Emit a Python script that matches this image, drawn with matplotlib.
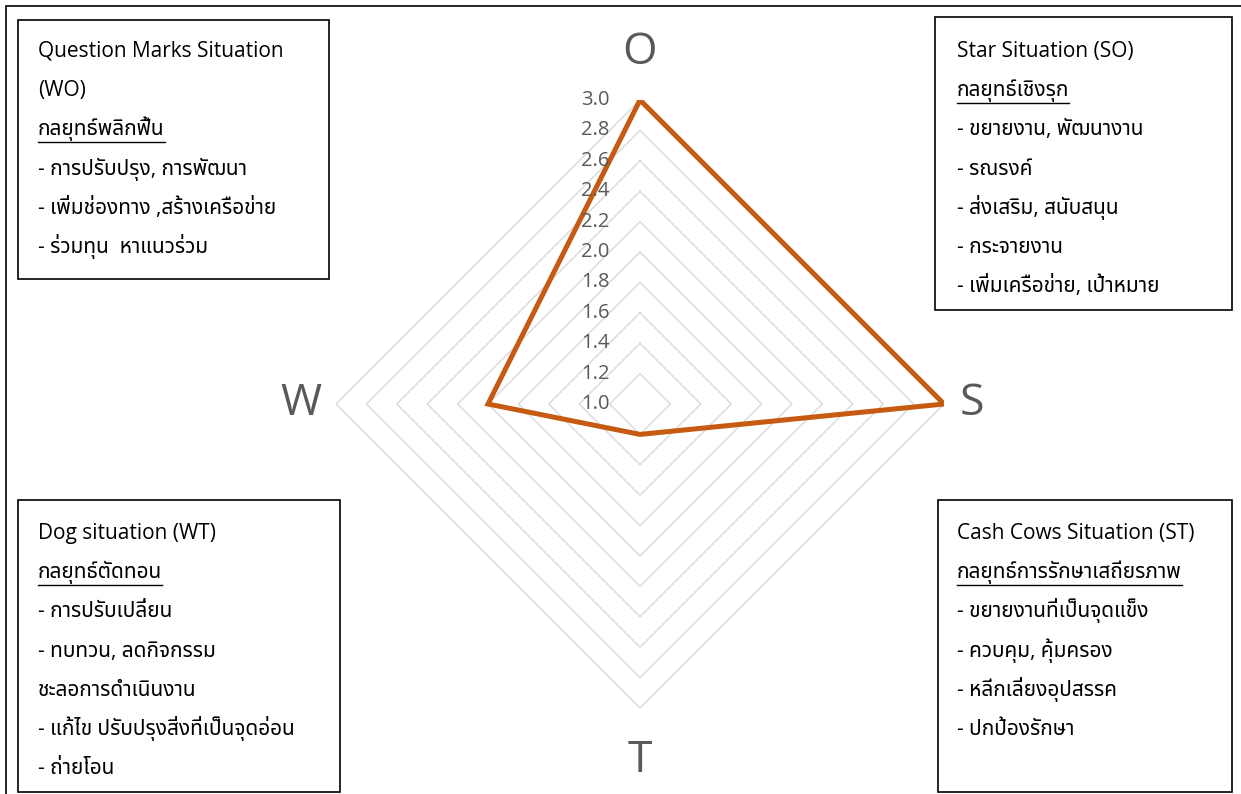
import matplotlib
matplotlib.use("Agg")
import matplotlib.pyplot as plt
import numpy as np
from matplotlib import font_manager
from matplotlib.lines import Line2D
from matplotlib.patches import Rectangle

# --- data -----------------------------------------------------------------
categories = ["O", "S", "T", "W"]
values = [3.0, 3.0, 1.2, 2.0]
levels = [1.2, 1.4, 1.6, 1.8, 2.0, 2.2, 2.4, 2.6, 2.8, 3.0]
tick_labels = ["1.0", "1.2", "1.4", "1.6", "1.8", "2.0", "2.2", "2.4", "2.6", "2.8", "3.0"]

wo_lines = ["Question Marks Situation", "(WO)", "กลยุทธ์พลิกฟื้น",
            "- การปรับปรุง, การพัฒนา", "- เพิ่มช่องทาง ,สร้างเครือข่าย",
            "- ร่วมทุน  หาแนวร่วม"]
so_lines = ["Star Situation (SO)", "กลยุทธ์เชิงรุก", "- ขยายงาน, พัฒนางาน",
            "- รณรงค์", "- ส่งเสริม, สนับสนุน", "- กระจายงาน",
            "- เพิ่มเครือข่าย, เป้าหมาย"]
wt_lines = ["Dog situation (WT)", "กลยุทธ์ตัดทอน", "- การปรับเปลี่ยน",
            "- ทบทวน, ลดกิจกรรม", "ชะลอการดำเนินงาน",
            "- แก้ไข ปรับปรุงสิ่งที่เป็นจุดอ่อน", "- ถ่ายโอน"]
st_lines = ["Cash Cows Situation (ST)", "กลยุทธ์การรักษาเสถียรภาพ",
            "- ขยายงานที่เป็นจุดแข็ง", "- ควบคุม, คุ้มครอง",
            "- หลีกเลี่ยงอุปสรรค", "- ปกป้องรักษา"]
underlined = {"กลยุทธ์พลิกฟื้น", "กลยุทธ์เชิงรุก", "กลยุทธ์ตัดทอน",
              "กลยุทธ์การรักษาเสถียรภาพ"}

# pick whatever Thai-capable family is installed
_installed = {f.name for f in font_manager.fontManager.ttflist}
_thai = next((n for n in ["Noto Sans Thai", "Noto Sans Thai Looped", "Sarabun",
                          "IBM Plex Sans Thai", "Anuphan", "Athiti"]
              if n in _installed), "DejaVu Sans")
FAMILY = ["Open Sans", _thai, "DejaVu Sans"]
plt.rcParams["font.family"] = FAMILY

W, H = 1241, 794
fig = plt.figure(figsize=(W / 100, H / 100), dpi=100)


def fx(x):
    return x / W


def fy(y):
    return 1 - y / H


# outer chart border (right/bottom run off the image)
fig.patches.append(Rectangle((fx(6), fy(800)), fx(1250 - 6), (800 - 6) / H,
                             transform=fig.transFigure, fill=False,
                             ec="black", lw=1.2))

# --- radar ------------------------------------------------------------------
cx, cy, rad = 640, 404, 304
ax = fig.add_axes([fx(cx - rad), fy(cy + rad), 2 * rad / W, 2 * rad / H],
                  projection="polar")
ax.set_theta_offset(np.pi / 2)
ax.set_theta_direction(-1)
ax.set_ylim(1.0, 3.0)
ax.grid(False)
ax.spines["polar"].set_visible(False)
ax.set_xticks([])
ax.set_yticks([])
ax.patch.set_alpha(0)

angles = np.linspace(0, 2 * np.pi, len(categories), endpoint=False)
closed = np.concatenate([angles, angles[:1]])
for lv in levels:
    ax.plot(closed, [lv] * len(closed), color="#d9d9d9", lw=1.0, zorder=1)

ax.plot(closed, values + values[:1], color="#c55a11", lw=3.6,
        solid_joinstyle="miter", zorder=3)

for i, lab in enumerate(tick_labels):
    r = 1.0 + 0.2 * i
    ax.annotate(lab, xy=(0, r), xytext=(-22, 0), textcoords="offset points",
                ha="right", va="center", fontsize=14.5, color="#595959",
                zorder=4)

label_off = {"O": (0, 34), "S": (20, 0), "T": (0, -38), "W": (-25, 0)}
for ang, cat in zip(angles, categories):
    ax.annotate(cat, xy=(ang, 3.0), xytext=label_off[cat],
                textcoords="offset points", ha="center", va="center",
                fontsize=32, color="#595959")

# --- strategy boxes ------------------------------------------------------
boxes = [
    (wo_lines, (18, 20, 329, 279), 38, 57),
    (so_lines, (935, 17, 1232, 310), 957, 57),
    (wt_lines, (18, 500, 340, 792), 38, 539),
    (st_lines, (938, 500, 1232, 792), 957, 539),
]
step = 39.2
texts = []
for lines, (x0, y0, x1, y1), tx, ty in boxes:
    fig.patches.append(Rectangle((fx(x0), fy(y1)), (x1 - x0) / W, (y1 - y0) / H,
                                 transform=fig.transFigure, fill=True,
                                 fc="white", ec="black", lw=1.2))
    for k, line in enumerate(lines):
        t = fig.text(fx(tx), fy(ty + k * step), line, ha="left", va="baseline",
                     fontsize=15, color="black")
        texts.append((t, line, ty + k * step))

fig.canvas.draw()
renderer = fig.canvas.get_renderer()
for t, line, base in texts:
    if line in underlined:
        bb = t.get_window_extent(renderer)
        uy = fy(base + 7)
        fig.add_artist(Line2D([bb.x0 / W, bb.x1 / W], [uy, uy],
                              transform=fig.transFigure, color="black", lw=1.0))

fig.savefig("out.png", dpi=100)
